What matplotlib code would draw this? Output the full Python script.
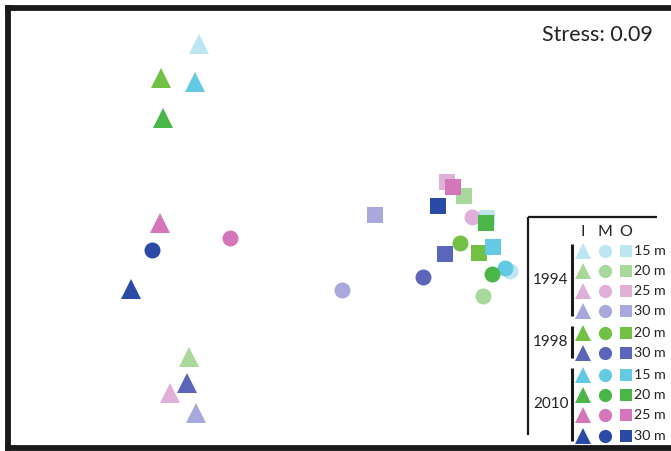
import matplotlib
matplotlib.use('Agg')
import matplotlib.pyplot as plt

# NMDS ordination: one entry per year/depth group
years = ['1994', '1994', '1994', '1994', '1998', '1998', '2010', '2010', '2010', '2010']
depths = ['15 m', '20 m', '25 m', '30 m', '20 m', '30 m', '15 m', '20 m', '25 m', '30 m']
colors = ['#bde5f2', '#a9d89c', '#dfb1d9', '#a8a8dc', '#72c044',
          '#5b66ba', '#64c9e3', '#4bb648', '#d476b9', '#2a4aa6']

# I (triangles), M (circles), O (squares)
inner_x = [-0.564, -0.604, -0.680, -0.576, -0.716, -0.612, -0.580, -0.708, -0.720, -0.836]
inner_y = [0.824, -0.428, -0.572, -0.652, 0.688, -0.532, 0.672, 0.528, 0.108, -0.156]
mid_x = [0.680, 0.572, 0.528, 0.008, 0.480, 0.332, 0.660, 0.608, -0.440, -0.752]
mid_y = [-0.084, -0.184, 0.132, -0.160, 0.028, -0.108, -0.072, -0.096, 0.048, 0.000]
outer_x = [0.588, 0.496, 0.428, 0.140, 0.556, 0.420, 0.612, 0.584, 0.452, 0.392]
outer_y = [0.128, 0.216, 0.272, 0.140, -0.012, -0.016, 0.012, 0.108, 0.252, 0.176]

stress = 0.09

W, H = 671, 451
fig = plt.figure(figsize=(W / 100, H / 100), dpi=100)
ax = fig.add_axes([8 / W, 3 / H, 672 / W, 440 / H])
ax.set_xlim(-1.328, 1.36)
ax.set_ylim(-0.792, 0.968)
ax.set_xticks([])
ax.set_yticks([])
for s in ax.spines.values():
    s.set_linewidth(4.2)
    s.set_color('#1a1a1a')
ax.spines['right'].set_visible(False)

for i in range(len(years)):
    c = colors[i]
    ax.plot(inner_x[i], inner_y[i], '^', ms=14, color=c, mew=0)
    ax.plot(mid_x[i], mid_y[i], 'o', ms=11.5, color=c, mew=0)
    ax.plot(outer_x[i], outer_y[i], 's', ms=11.5, color=c, mew=0)

fig.text(653 / W, 1 - 35 / H, 'Stress: %.2f' % stress, ha='right', va='center',
         fontsize=15.5, family='Lato', color='#222222')

# legend panel, laid out in pixel units (y down)
lg = fig.add_axes([0, 0, 1, 1])
lg.set_xlim(0, W)
lg.set_ylim(H, 0)
lg.axis('off')
lg.patch.set_visible(False)
lg.plot([528, 657], [217, 217], color='#1a1a1a', lw=1.6, solid_capstyle='butt')
lg.plot([528, 528], [217, 435], color='#1a1a1a', lw=1.6, solid_capstyle='butt')

tx, cx, sx = 583, 605, 626
for lab, x in zip(['I', 'M', 'O'], [tx, cx, sx]):
    lg.text(x, 232, lab, ha='center', va='center', fontsize=11.5, family='Lato', color='#222222')

row_y = [251, 271, 291, 311, 333, 353, 375, 395, 415, 436]
for i in range(len(years)):
    y = row_y[i]
    lg.plot(tx, y, '^', ms=11, color=colors[i], mew=0)
    lg.plot(cx, y, 'o', ms=9.5, color=colors[i], mew=0)
    lg.plot(sx, y, 's', ms=9, color=colors[i], mew=0)
    lg.text(634, y, depths[i], ha='left', va='center', fontsize=10.2, family='Lato', color='#222222')

for yr in ['1994', '1998', '2010']:
    ys = [row_y[i] for i in range(len(years)) if years[i] == yr]
    lo, hi = ys[0] - 7, ys[-1] + 5
    lg.plot([572, 572], [lo, hi], color='#1a1a1a', lw=2.2, solid_capstyle='butt')
    lg.text(551, (lo + hi) / 2, yr, ha='center', va='center', fontsize=11, family='Lato', color='#222222')

fig.savefig('out.png', dpi=100)
